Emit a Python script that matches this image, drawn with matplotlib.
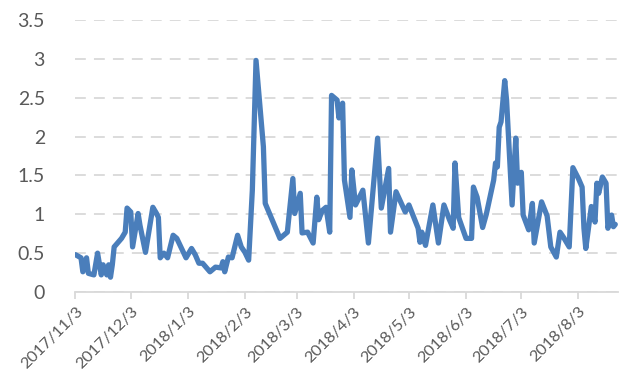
import matplotlib
matplotlib.use("Agg")
import matplotlib.pyplot as plt
import pandas as pd

# values (vertices of the line)
dates = [
    "2017-11-03", "2017-11-06", "2017-11-07", "2017-11-09", "2017-11-10", "2017-11-13",
    "2017-11-15", "2017-11-17", "2017-11-18", "2017-11-20", "2017-11-21", "2017-11-22",
    "2017-11-23", "2017-11-24", "2017-11-28", "2017-11-30", "2017-12-01", "2017-12-03",
    "2017-12-04", "2017-12-07", "2017-12-08", "2017-12-11", "2017-12-15", "2017-12-17",
    "2017-12-18", "2017-12-19", "2017-12-21", "2017-12-23", "2017-12-26", "2017-12-28",
    "2017-12-31", "2018-01-02", "2018-01-05", "2018-01-07", "2018-01-09", "2018-01-11",
    "2018-01-15", "2018-01-18", "2018-01-21", "2018-01-22", "2018-01-23", "2018-01-25",
    "2018-01-27", "2018-01-30", "2018-02-01", "2018-02-03", "2018-02-05", "2018-02-07",
    "2018-02-09", "2018-02-13", "2018-02-14", "2018-02-22", "2018-02-26", "2018-03-01",
    "2018-03-02", "2018-03-05", "2018-03-06", "2018-03-09", "2018-03-12", "2018-03-14",
    "2018-03-15", "2018-03-17", "2018-03-19", "2018-03-21", "2018-03-22", "2018-03-25",
    "2018-03-26", "2018-03-28", "2018-03-29", "2018-04-01", "2018-04-02", "2018-04-04",
    "2018-04-08", "2018-04-11", "2018-04-16", "2018-04-18", "2018-04-22", "2018-04-23",
    "2018-04-26", "2018-05-01", "2018-05-03", "2018-05-08", "2018-05-09", "2018-05-10",
    "2018-05-12", "2018-05-16", "2018-05-19", "2018-05-22", "2018-05-25", "2018-05-27",
    "2018-05-28", "2018-05-30", "2018-06-03", "2018-06-06", "2018-06-07", "2018-06-09",
    "2018-06-12", "2018-06-14", "2018-06-18", "2018-06-19", "2018-06-20", "2018-06-21",
    "2018-06-22", "2018-06-24", "2018-06-25", "2018-06-28", "2018-06-30", "2018-07-01",
    "2018-07-03", "2018-07-04", "2018-07-07", "2018-07-09", "2018-07-10", "2018-07-14",
    "2018-07-17", "2018-07-19", "2018-07-22", "2018-07-24", "2018-07-26", "2018-07-29",
    "2018-07-31", "2018-08-03", "2018-08-05", "2018-08-06", "2018-08-07", "2018-08-10",
    "2018-08-12", "2018-08-13", "2018-08-14", "2018-08-16", "2018-08-18", "2018-08-19",
    "2018-08-21", "2018-08-22", "2018-08-23",
]
values = [
    0.48, 0.44, 0.26, 0.44, 0.24, 0.22,
    0.50, 0.22, 0.35, 0.22, 0.35, 0.19,
    0.35, 0.58, 0.69, 0.77, 1.08, 1.03,
    0.58, 1.01, 0.86, 0.51, 1.09, 1.01,
    0.96, 0.44, 0.50, 0.44, 0.73, 0.69,
    0.54, 0.44, 0.56, 0.48, 0.37, 0.37,
    0.26, 0.32, 0.31, 0.39, 0.26, 0.45,
    0.44, 0.73, 0.58, 0.51, 0.41, 1.31,
    2.98, 1.87, 1.14, 0.69, 0.77, 1.46,
    1.01, 1.27, 0.76, 0.77, 0.63, 1.22,
    0.93, 1.05, 1.09, 0.77, 2.53, 2.47,
    2.24, 2.43, 1.44, 0.96, 1.57, 1.12,
    1.31, 0.63, 1.98, 1.08, 1.59, 0.77,
    1.29, 1.03, 1.12, 0.82, 0.64, 0.77,
    0.60, 1.12, 0.63, 1.12, 0.93, 0.82,
    1.66, 0.96, 0.69, 0.69, 1.35, 1.22,
    0.83, 1.00, 1.44, 1.66, 1.61, 2.12,
    2.19, 2.72, 2.47, 1.12, 1.98, 1.40,
    1.54, 0.99, 0.80, 1.14, 0.63, 1.16,
    0.98, 0.58, 0.45, 0.77, 0.70, 0.58,
    1.60, 1.46, 1.35, 0.82, 0.56, 1.10,
    0.90, 1.40, 1.27, 1.48, 1.40, 0.82,
    0.99, 0.84, 0.87,
]

tick_dates = ["2017-11-03", "2017-12-03", "2018-01-03", "2018-02-03", "2018-03-03",
              "2018-04-03", "2018-05-03", "2018-06-03", "2018-07-03", "2018-08-03"]
tick_labels = ["2017/11/3", "2017/12/3", "2018/1/3", "2018/2/3", "2018/3/3",
               "2018/4/3", "2018/5/3", "2018/6/3", "2018/7/3", "2018/8/3"]
y_ticks = [0, 0.5, 1, 1.5, 2, 2.5, 3, 3.5]
y_labels = ["0", "0.5", "1", "1.5", "2", "2.5", "3", "3.5"]

plt.rcParams['font.family'] = ['Lato', 'DejaVu Sans']

x = pd.to_datetime(dates)

fig = plt.figure(figsize=(6.3, 3.81), dpi=100)
ax = fig.add_axes([0.1198, 0.2336, 0.981 - 0.1198, 0.9475 - 0.2336])

ax.plot(x, values, color="#4A7EBB", lw=3.8, solid_joinstyle="round", solid_capstyle="round")

ax.set_ylim(0, 3.5)
ax.set_xlim(x[0], x[-1] + pd.Timedelta(days=1.5))

ax.set_yticks(y_ticks)
ax.set_yticklabels(y_labels)
ax.yaxis.grid(True, color="#D9D9D9", lw=1.3, linestyle=(0, (6, 4.5)))
ax.set_axisbelow(True)

ax.set_xticks(pd.to_datetime(tick_dates))
ax.set_xticklabels(tick_labels, rotation=45, ha="right", rotation_mode="anchor")

for s in ["top", "right", "left"]:
    ax.spines[s].set_visible(False)
ax.spines["bottom"].set_color("#D9D9D9")
ax.spines["bottom"].set_linewidth(1.3)

ax.tick_params(axis="y", length=0, pad=22, labelsize=14, labelcolor="#595959")
ax.tick_params(axis="x", length=5, width=1.3, color="#D9D9D9", pad=4,
               labelsize=11.8, labelcolor="#595959")

fig.savefig("out.png", dpi=100)
